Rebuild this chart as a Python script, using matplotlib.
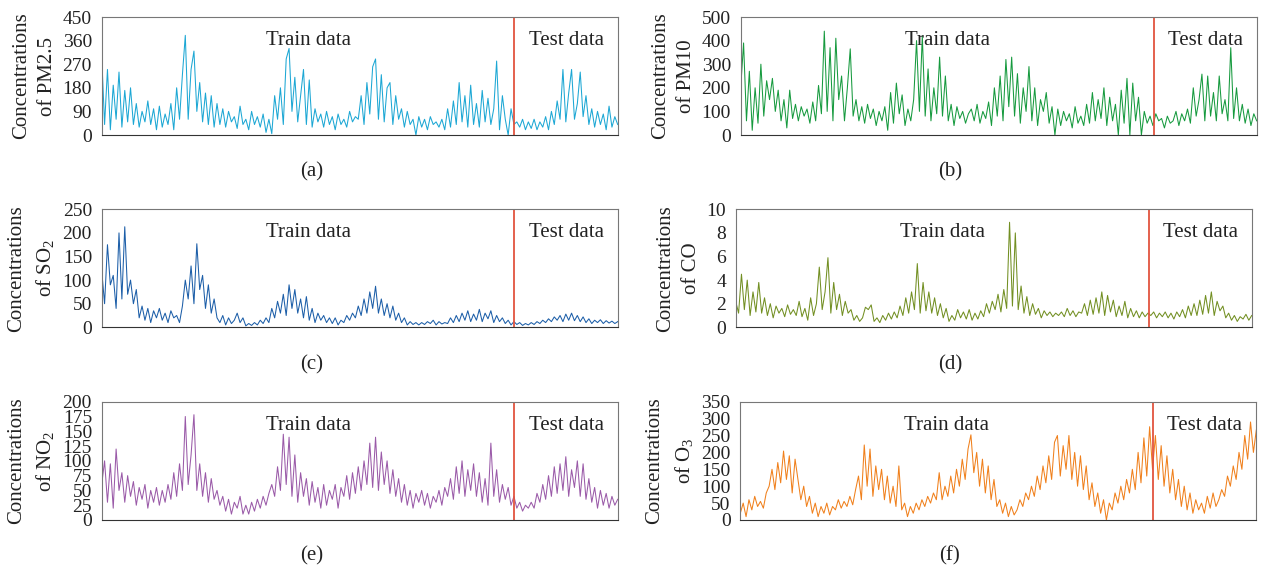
import matplotlib.pyplot as plt
import numpy as np

plt.rcParams['font.family'] = ['Liberation Serif', 'DejaVu Serif']

# values, ~180 samples per series (train = first 144)
pm25 = [300, 40, 250, 20, 190, 60, 240, 30, 170, 50,
        180, 40, 120, 30, 90, 50, 130, 40, 100, 20,
        110, 30, 80, 40, 120, 20, 180, 60, 230, 380,
        60, 250, 320, 90, 200, 50, 160, 40, 150, 30,
        120, 40, 100, 30, 90, 50, 70, 25, 110, 40,
        60, 20, 90, 40, 70, 30, 80, 10, 60, 5,
        150, 60, 180, 40, 290, 330, 90, 220, 50, 150,
        250, 40, 210, 30, 100, 50, 80, 30, 90, 40,
        70, 20, 80, 40, 60, 30, 90, 50, 70, 60,
        150, 40, 200, 80, 260, 290, 60, 230, 50, 180,
        200, 40, 150, 60, 100, 30, 90, 40, 60, 0,
        70, 30, 60, 20, 70, 40, 50, 30, 60, 20,
        100, 30, 130, 40, 200, 50, 150, 30, 190, 40,
        120, 30, 170, 50, 140, 40, 100, 282, 20, 150,
        60, 0, 100, 40, 50, 30, 60, 20, 50, 25,
        60, 20, 50, 30, 70, 20, 90, 40, 130, 60,
        250, 50, 160, 250, 60, 120, 240, 70, 150, 40,
        100, 30, 90, 40, 80, 20, 110, 30, 70, 40]

pm10 = [200, 390, 60, 270, 20, 200, 50, 300, 80, 230,
        150, 240, 100, 190, 60, 150, 30, 190, 70, 130,
        60, 120, 80, 110, 50, 140, 60, 210, 90, 440,
        100, 370, 60, 410, 150, 250, 60, 200, 365, 80,
        150, 60, 120, 50, 130, 70, 110, 40, 100, 60,
        120, 20, 180, 50, 220, 90, 170, 40, 110, 60,
        150, 400, 100, 420, 80, 280, 60, 200, 90, 330,
        80, 250, 60, 130, 40, 120, 70, 100, 50, 90,
        110, 60, 130, 50, 100, 70, 140, 40, 200, 80,
        250, 60, 320, 120, 330, 80, 260, 50, 200, 100,
        290, 60, 200, 40, 150, 100, 180, 50, 120, 0,
        110, 40, 100, 60, 90, 30, 120, 50, 80, 40,
        130, 50, 180, 60, 150, 70, 200, 40, 160, 60,
        130, 0, 190, 50, 240, 0, 220, 60, 160, 0,
        100, 50, 80, 40, 90, 60, 70, 30, 80, 50,
        60, 100, 40, 90, 60, 110, 50, 200, 80, 150,
        258, 60, 250, 80, 180, 60, 250, 90, 150, 60,
        370, 70, 200, 60, 130, 50, 110, 40, 90, 60]

so2 = [120, 50, 175, 90, 110, 40, 200, 60, 213, 70,
       100, 50, 80, 20, 45, 15, 40, 10, 35, 20,
       40, 15, 30, 10, 35, 20, 25, 10, 45, 100,
       60, 130, 50, 177, 80, 110, 40, 90, 30, 60,
       20, 10, 25, 5, 20, 8, 15, 30, 10, 20,
       3, 8, 4, 10, 5, 15, 8, 20, 10, 40,
       20, 55, 30, 70, 25, 90, 40, 80, 30, 60,
       20, 65, 15, 40, 10, 30, 15, 25, 10, 20,
       8, 20, 5, 15, 10, 25, 15, 30, 20, 45,
       25, 60, 30, 75, 40, 87, 30, 60, 25, 50,
       20, 45, 15, 30, 10, 20, 5, 12, 6, 10,
       5, 10, 6, 12, 8, 15, 5, 12, 7, 10,
       8, 20, 10, 25, 12, 30, 15, 35, 12, 28,
       15, 38, 12, 30, 18, 35, 10, 25, 12, 20,
       8, 15, 5, 12, 6, 10, 4, 8, 5, 10,
       6, 12, 8, 15, 10, 18, 12, 22, 15, 25,
       12, 28, 15, 30, 14, 25, 12, 22, 10, 18,
       8, 15, 10, 16, 8, 14, 9, 13, 8, 12]

co = [2.2, 1.2, 4.5, 1.5, 4.0, 1.0, 3.0, 1.3, 3.8, 1.2,
      2.5, 1.0, 2.0, 0.8, 1.8, 1.2, 1.6, 0.9, 1.9, 1.1,
      1.5, 1.0, 2.2, 0.9, 1.6, 0.6, 2.5, 1.0, 2.0, 5.1,
      1.5, 3.0, 5.9, 1.2, 3.8, 1.5, 2.8, 1.0, 2.2, 1.2,
      1.5, 0.6, 1.0, 0.5, 0.8, 1.7, 1.5, 1.9, 0.5, 0.8,
      0.4, 1.0, 0.6, 1.2, 0.7, 1.3, 0.8, 1.8, 1.0, 2.5,
      1.2, 3.0, 1.5, 5.4, 1.2, 3.8, 1.4, 3.0, 1.2, 2.5,
      1.0, 2.0, 0.8, 1.6, 0.5, 1.0, 0.6, 1.5, 0.8, 1.3,
      0.7, 1.5, 0.6, 1.2, 0.7, 1.4, 0.9, 2.0, 1.2, 2.2,
      1.5, 2.8, 1.3, 3.2, 1.6, 8.9, 1.8, 8.0, 1.5, 3.5,
      1.2, 2.6, 1.0, 2.0, 1.1, 1.6, 0.8, 1.4, 1.0, 1.3,
      0.9, 1.2, 1.0, 1.3, 0.9, 1.6, 1.0, 1.4, 0.9, 1.3,
      1.2, 2.0, 1.0, 2.3, 1.1, 2.5, 1.2, 3.0, 1.0, 2.7,
      1.3, 2.3, 0.9, 1.8, 1.0, 2.2, 0.8, 1.6, 0.9, 1.4,
      0.8, 1.3, 0.9, 1.2, 1.0, 1.3, 0.8, 1.2, 0.9, 1.3,
      0.8, 1.2, 0.7, 1.3, 0.9, 1.5, 0.8, 1.8, 1.0, 2.0,
      1.0, 2.3, 1.1, 2.7, 1.2, 3.0, 1.0, 2.2, 1.4, 1.8,
      0.8, 1.2, 0.6, 1.0, 0.5, 0.9, 0.7, 1.1, 0.6, 1.0]

no2 = [60, 100, 30, 95, 20, 120, 50, 80, 30, 75,
       40, 65, 25, 55, 35, 60, 20, 50, 30, 55,
       25, 50, 30, 60, 35, 80, 40, 95, 50, 175,
       60, 110, 178, 50, 95, 40, 80, 30, 70, 35,
       50, 25, 40, 15, 35, 10, 30, 20, 40, 10,
       25, 10, 30, 15, 35, 20, 40, 25, 45, 60,
       40, 90, 50, 145, 60, 140, 40, 110, 30, 80,
       40, 70, 25, 65, 30, 55, 20, 60, 25, 50,
       35, 60, 20, 55, 40, 75, 35, 80, 45, 90,
       50, 100, 60, 130, 55, 140, 50, 115, 60, 100,
       45, 85, 40, 70, 30, 60, 25, 50, 20, 45,
       30, 50, 25, 45, 20, 40, 30, 50, 25, 55,
       40, 70, 35, 90, 45, 100, 40, 85, 50, 95,
       40, 80, 30, 70, 25, 130, 40, 85, 30, 60,
       35, 55, 25, 40, 20, 30, 15, 25, 20, 30,
       20, 45, 30, 60, 35, 75, 40, 90, 45, 95,
       50, 107, 40, 85, 55, 100, 40, 95, 35, 70,
       30, 55, 20, 50, 25, 45, 20, 40, 25, 35]

o3 = [20, 50, 10, 60, 30, 70, 40, 55, 35, 80,
      100, 150, 90, 170, 110, 204, 120, 190, 80, 180,
      120, 60, 100, 40, 70, 20, 50, 10, 40, 20,
      50, 15, 40, 30, 60, 35, 55, 40, 70, 45,
      90, 130, 60, 222, 100, 210, 70, 160, 90, 150,
      60, 130, 50, 100, 40, 160, 30, 50, 10, 40,
      20, 50, 30, 60, 40, 70, 50, 80, 60, 140,
      60, 100, 70, 130, 80, 150, 100, 180, 120, 210,
      252, 140, 200, 100, 180, 80, 160, 60, 120, 40,
      60, 20, 50, 10, 40, 15, 30, 60, 40, 80,
      60, 100, 70, 130, 90, 160, 110, 190, 120, 230,
      250, 130, 220, 150, 250, 120, 200, 100, 190, 90,
      160, 60, 110, 40, 80, 20, 60, 0, 50, 30,
      80, 50, 100, 60, 120, 80, 150, 90, 200, 110,
      243, 130, 276, 150, 250, 120, 220, 100, 190, 80,
      150, 60, 120, 40, 100, 30, 80, 20, 60, 30,
      50, 20, 70, 35, 80, 40, 60, 90, 70, 130,
      100, 160, 120, 200, 150, 250, 180, 290, 200, 266]

split_at = 143.2  # boundary between train and test samples

yticks_pm25 = [0, 90, 180, 270, 360, 450]
yticks_pm10 = [0, 100, 200, 300, 400, 500]
yticks_so2 = [0, 50, 100, 150, 200, 250]
yticks_co = [0, 2, 4, 6, 8, 10]
yticks_no2 = [0, 25, 50, 75, 100, 125, 150, 175, 200]
yticks_o3 = [0, 50, 100, 150, 200, 250, 300, 350]

labels = ['Concentrations\nof PM2.5', 'Concentrations\nof PM10',
          'Concentrations\nof SO$_\\mathregular{2}$', 'Concentrations\nof CO',
          'Concentrations\nof NO$_\\mathregular{2}$', 'Concentrations\nof O$_\\mathregular{3}$']
captions = ['(a)', '(b)', '(c)', '(d)', '(e)', '(f)']

W, H = 1261, 573
# pixel boxes: left, top, right, bottom
boxes = [(101.7, 17, 617.7, 135), (740.7, 17, 1256.7, 135),
         (101.7, 209.3, 617.7, 327.3), (735.7, 209.3, 1251.7, 327.3),
         (101.7, 401.7, 617.7, 520), (740.3, 401.7, 1256.3, 520)]
caption_xy = [(312, 172), (950, 172), (312, 365), (950, 365), (312, 556), (950, 556)]
colors = ['#1ca7d4', '#169a3e', '#1c5ea8', '#728f22', '#9a5aa8', '#f0801c']
series = [pm25, pm10, so2, co, no2, o3]
ticks = [yticks_pm25, yticks_pm10, yticks_so2, yticks_co, yticks_no2, yticks_o3]

fig = plt.figure(figsize=(W / 100, H / 100), dpi=100)

for k in range(6):
    l, t, r, b = boxes[k]
    ax = fig.add_axes([l / W, 1 - b / H, (r - l) / W, (b - t) / H])
    y = series[k]
    x = np.arange(len(y))
    ax.plot(x, y, color=colors[k], lw=0.75)
    ax.axvline(split_at, color='#e2543f', lw=1.3)
    ax.set_xlim(0, len(y) - 1)
    ax.set_ylim(0, ticks[k][-1])
    ax.set_yticks(ticks[k])
    ax.set_xticks([])
    ax.tick_params(axis='y', length=0, pad=7, labelsize=14, colors='#222222')
    for side in ['top', 'right', 'left']:
        ax.spines[side].set_color('#777777')
    ax.spines['bottom'].set_color('#333333')
    ax.set_ylabel(labels[k], fontsize=15, labelpad=4, color='#222222', linespacing=1.5)
    ax.text(0.40, 0.80, 'Train data', transform=ax.transAxes, ha='center', va='center',
            fontsize=15, color='#222222')
    ax.text(0.90, 0.80, 'Test data', transform=ax.transAxes, ha='center', va='center',
            fontsize=15, color='#222222')
    cx, cy = caption_xy[k]
    fig.text(cx / W, 1 - cy / H, captions[k], ha='center', va='center',
             fontsize=15, color='#222222')

fig.savefig('out.png', dpi=100)
